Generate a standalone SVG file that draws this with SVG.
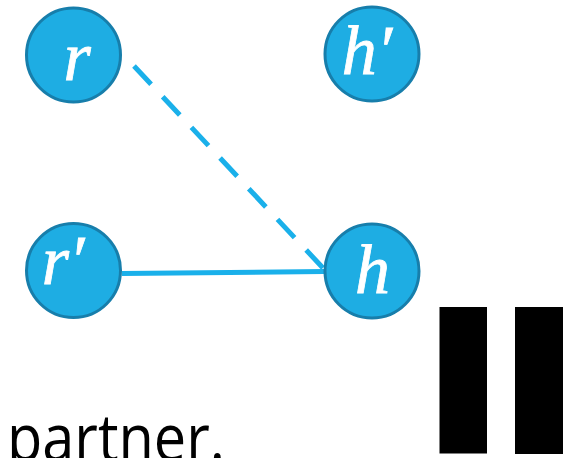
<svg xmlns="http://www.w3.org/2000/svg" width="574" height="458" viewBox="0 0 574 458">
<style>
.node{fill:#1EADE3;stroke:#177EAB;stroke-width:3}
.lbl{fill:#FFFFFF;font-family:"Liberation Serif","DejaVu Serif",serif;font-style:italic;font-size:70px;text-anchor:middle;stroke:#FFFFFF;stroke-width:0.8}
.edge{stroke:#1AB0EA;stroke-width:5;fill:none}
.bar{fill:#000000}
</style>
<rect width="574" height="458" fill="#FFFFFF"/>
<g id="connectors">
<line class="edge" x1="134" y1="66" x2="323" y2="268" stroke-dasharray="25 17" stroke-width="5.5"/>
<line class="edge" x1="122" y1="273.5" x2="324" y2="271.5"/>
</g>
<g id="node-r">
<circle class="node" cx="73.5" cy="55" r="47"/>
<text class="lbl" x="77" y="80">r</text>
</g>
<g id="node-hprime">
<circle class="node" cx="372" cy="54" r="47"/>
<text class="lbl" x="367" y="74">h′</text>
</g>
<g id="node-rprime">
<circle class="node" cx="73.5" cy="270.5" r="47"/>
<text class="lbl" x="63" y="284">r′</text>
</g>
<g id="node-h">
<circle class="node" cx="372" cy="271" r="47"/>
<text class="lbl" x="372.5" y="293">h</text>
</g>
<text x="7" y="461" font-family="'Open Sans','Noto Sans',sans-serif" font-size="66" fill="#000000" textLength="218" lengthAdjust="spacingAndGlyphs">partner.</text>
<rect class="bar" x="439.5" y="307" width="47.5" height="146.5"/>
<rect class="bar" x="515" y="307" width="48" height="147"/>
</svg>
